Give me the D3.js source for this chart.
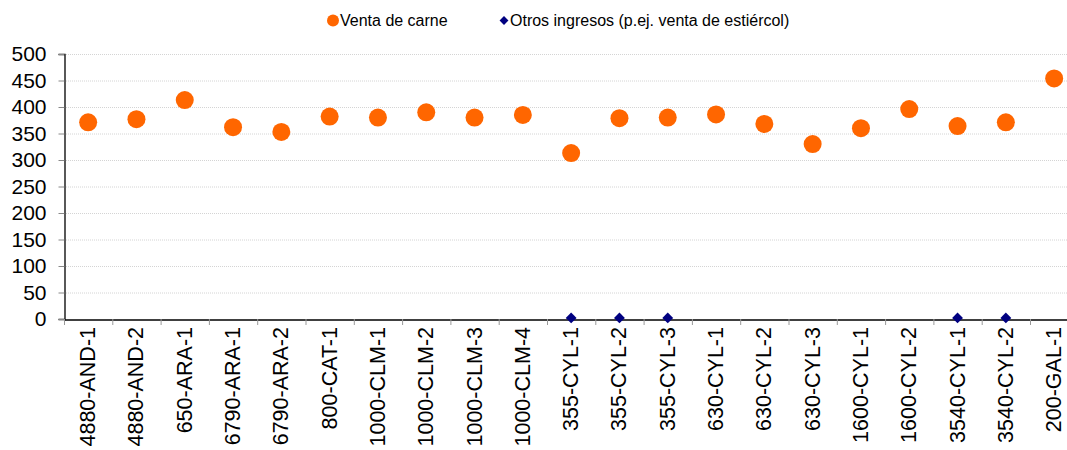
<!DOCTYPE html>
<html>
<head>
<meta charset="utf-8">
<script src="https://cdn.jsdelivr.net/npm/d3@7"></script>
<style>
  html, body { margin: 0; padding: 0; background: #fff; }
  svg { display: block; font-family: "Liberation Sans", Arial, sans-serif; }
</style>
</head>
<body>
<svg id="chart" width="1067" height="450"></svg>
<script>
const categories = ["4880-AND-1","4880-AND-2","650-ARA-1","6790-ARA-1","6790-ARA-2","800-CAT-1",
  "1000-CLM-1","1000-CLM-2","1000-CLM-3","1000-CLM-4","355-CYL-1","355-CYL-2","355-CYL-3",
  "630-CYL-1","630-CYL-2","630-CYL-3","1600-CYL-1","1600-CYL-2","3540-CYL-1","3540-CYL-2","200-GAL-1"];
const ventaCarne = [371, 377, 413, 362, 353, 382, 380, 390, 380, 385, 313, 379, 380,
  386, 368, 330, 360, 396, 364, 371, 454];
const otrosIngresos = [null, null, null, null, null, null, null, null, null, null, 2, 2, 2,
  null, null, null, null, null, 2, 2, null];
const yTicks = [0, 50, 100, 150, 200, 250, 300, 350, 400, 450, 500];
const seriesNames = ["Venta de carne", "Otros ingresos (p.ej. venta de estiércol)"];

const svg = d3.select("#chart");
const mLeft = 64, bandW = 48.3, mTop = 54, mBottom = 319;
const x = d3.scaleBand().domain(categories).range([mLeft, mLeft + bandW * categories.length]).padding(0);
const y = d3.scaleLinear().domain([0, 500]).range([mBottom, mTop]);
const cx = d => x(d) + x.bandwidth() / 2;

// gridlines
svg.append("g").selectAll("line").data(yTicks.filter(t => t > 0)).join("line")
  .attr("x1", mLeft).attr("x2", 1067)
  .attr("y1", d => y(d) + 0.5).attr("y2", d => y(d) + 0.5)
  .attr("stroke", "#d4d4d4").attr("stroke-width", 1).attr("stroke-dasharray", "1,1");

// y axis
const yAxis = d3.axisLeft(y).tickValues(yTicks).tickSize(6).tickPadding(12);
const gy = svg.append("g").attr("transform", `translate(${mLeft + 0.5},0)`).call(yAxis);
gy.select(".domain").attr("stroke", "#000").attr("stroke-width", 1.3);
gy.selectAll(".tick line").attr("stroke", "#888");
gy.selectAll(".tick text").attr("font-size", 21).attr("fill", "#000")
  .attr("font-family", "Liberation Sans, Arial, sans-serif");

// x axis
const xAxis = d3.axisBottom(x).tickSize(0).tickFormat("");
const gx = svg.append("g").attr("transform", `translate(0,${mBottom + 0.5})`).call(xAxis);
gx.select(".domain").attr("stroke", "#000").attr("stroke-width", 1.3);
// category boundary ticks
svg.append("g").selectAll("line").data(categories).join("line")
  .attr("x1", d => x(d) + 0.5).attr("x2", d => x(d) + 0.5)
  .attr("y1", mBottom).attr("y2", mBottom + 6)
  .attr("stroke", "#999").attr("stroke-width", 1);
// rotated labels
svg.append("g").selectAll("text").data(categories).join("text")
  .attr("transform", d => `translate(${cx(d)},${mBottom + 8}) rotate(-90)`)
  .attr("text-anchor", "end").attr("dominant-baseline", "central")
  .attr("font-size", 21.5).attr("fill", "#000")
  .text(d => d);

// series: venta de carne
svg.append("g").selectAll("circle").data(categories.map((c, i) => ({c, v: ventaCarne[i]})).filter(d => d.v != null))
  .join("circle")
  .attr("cx", d => cx(d.c)).attr("cy", d => y(d.v)).attr("r", 9)
  .attr("fill", "#FF6600");

// series: otros ingresos
const diamond = d3.symbol().type(d3.symbolDiamond2).size(75);
svg.append("g").selectAll("path").data(categories.map((c, i) => ({c, v: otrosIngresos[i]})).filter(d => d.v != null))
  .join("path")
  .attr("d", diamond)
  .attr("transform", d => `translate(${cx(d.c)},${y(d.v)})`)
  .attr("fill", "#000080");

// legend
const lg = svg.append("g").attr("font-size", 16);
lg.append("circle").attr("cx", 333).attr("cy", 20.5).attr("r", 6).attr("fill", "#FF6600");
lg.append("text").attr("x", 340).attr("y", 20.5).attr("dominant-baseline", "central").text(seriesNames[0]);
lg.append("path").attr("d", d3.symbol().type(d3.symbolDiamond2).size(50)).attr("transform", "translate(504,20.5)").attr("fill", "#000080");
lg.append("text").attr("x", 510).attr("y", 20.5).attr("dominant-baseline", "central").text(seriesNames[1]);
</script>
</body>
</html>
